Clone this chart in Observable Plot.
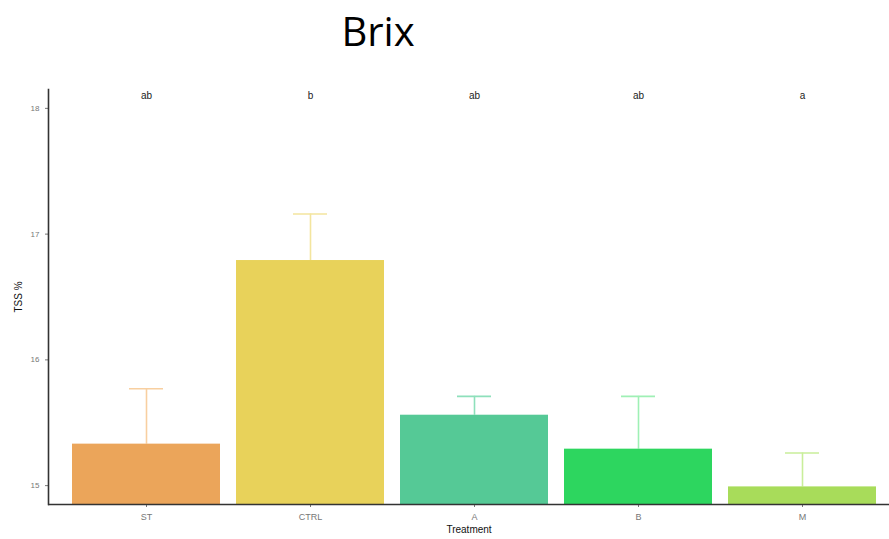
<!DOCTYPE html>
<html><head><meta charset="utf-8">
<script src="https://cdn.jsdelivr.net/npm/d3@7"></script>
<script src="https://cdn.jsdelivr.net/npm/@observablehq/plot@0.6"></script>
<style>
body{margin:0;background:#fff;}
#wrap{position:relative;width:889px;height:539px;overflow:hidden;}
#title{position:absolute;left:0;top:0;width:756px;height:60px;text-align:center;font-family:"Open Sans",sans-serif;font-size:40px;line-height:62px;color:#000;}
#chart{position:absolute;left:0;top:60px;}
</style>
</head><body>
<div id="wrap"><div id="title">Brix</div><div id="chart"></div></div>
<script>
const treatments = ["ST","CTRL","A","B","M"];
const means = [15.33,16.79,15.56,15.29,14.99];
const upperErr = [15.77,17.16,15.71,15.71,15.26];
const letters = ["ab","b","ab","ab","a"];
const barColors = ["#EBA55A","#E8D25A","#55C996","#2DD65F","#A8DC5A"];
const errColors = ["#F8CFA0","#F3E59E","#8EE0BB","#9FF0B5","#C9EE9A"];
const yTicks = [15,16,17,18];
const yMin = 14.85, yMax = 18.15, letterY = 18.1;

const data = treatments.map((t,i)=>({t, mean:means[i], upper:upperErr[i], letter:letters[i], fill:barColors[i], err:errColors[i]}));

const chart = Plot.plot({
  width: 889, height: 479,
  marginLeft: 48, marginRight: 0, marginTop: 29, marginBottom: 35,
  style: {fontFamily: "Liberation Sans, Arial, sans-serif", background: "#fff"},
  x: {domain: treatments, range: [48, 899.7], paddingInner: 0.1, paddingOuter: 0.146},
  y: {domain: [yMin, yMax]},
  marks: [
    Plot.ruleX(data, {x: "t", y1: "mean", y2: "upper", stroke: "err", strokeWidth: 1.6}),
    Plot.tickY(data, {x: "t", y: "upper", stroke: "err", strokeWidth: 1.6, inset: 57}),
    Plot.barY(data, {x: "t", y1: () => yMin, y2: "mean", fill: "fill"}),
    Plot.text(data, {x: "t", y: () => letterY, text: "letter", fontSize: 10, fill: "#222"}),
    Plot.axisY({ticks: yTicks, tickFormat: d3.format("d"), tickSize: 3, fontSize: 8, color: "#777", label: null}),
    Plot.axisX({tickSize: 3, fontSize: 9, color: "#777", label: null}),
    Plot.text(["TSS %"], {frameAnchor: "left", textAnchor: "middle", text: d => d, rotate: -90, dx: -30, fontSize: 10, fill: "#111"}),
    Plot.text(["Treatment"], {frameAnchor: "bottom", text: d => d, dy: 28, fontSize: 10, fill: "#111"}),
    Plot.frame({anchor: "left", stroke: "#333", strokeWidth: 1.6}),
    Plot.ruleY([yMin], {stroke: "#333", strokeWidth: 1.6})
  ]
});
document.getElementById("chart").appendChild(chart);
</script>
</body></html>
